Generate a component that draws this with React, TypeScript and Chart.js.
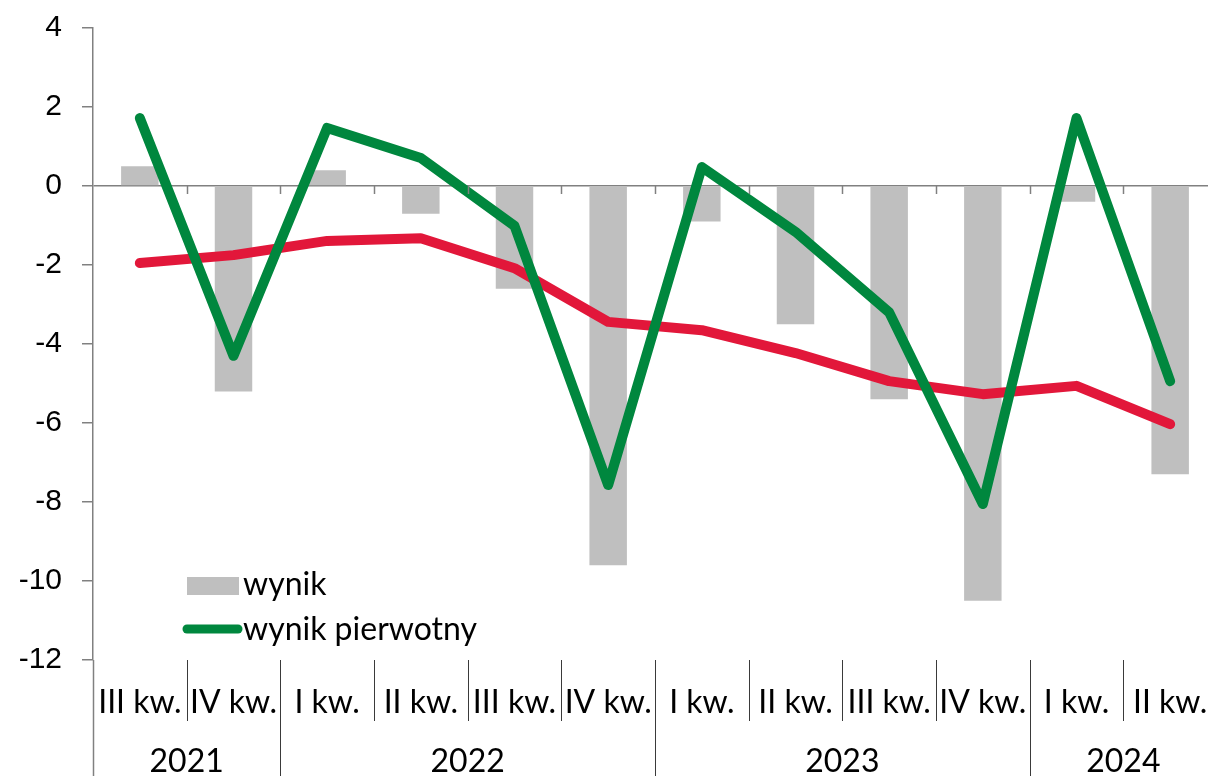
import React, { useEffect, useRef } from "react";
import { Chart, registerables } from "chart.js";

Chart.register(...registerables);

const categories = ["III kw.", "IV kw.", "I kw.", "II kw.", "III kw.", "IV kw.", "I kw.", "II kw.", "III kw.", "IV kw.", "I kw.", "II kw."];
const yearLabels = ["2021", "2022", "2023", "2024"];
const yearSpans = [2, 4, 4, 2];

const wynik = [0.5, -5.2, 0.4, -0.7, -2.6, -9.6, -0.9, -3.5, -5.4, -10.5, -0.4, -7.3];
const wynikPierwotny = [1.72, -4.3, 1.47, 0.71, -1.01, -7.57, 0.48, -1.16, -3.2, -8.05, 1.72, -4.94];
const trend = [-1.95, -1.75, -1.39, -1.32, -2.08, -3.44, -3.65, -4.23, -4.94, -5.27, -5.06, -6.03];

const legendItems = ["wynik", "wynik pierwotny"];

const FONT = "Lato";
const FS = 32;
const YFONT = "'Liberation Sans', Arial, sans-serif";
const YFS = 30;
const GRAY = "#BFBFBF";
const GREEN = "#00873E";
const RED = "#E2173A";
const AXIS = "#808080";

const decorPlugin = {
  id: "decor",
  afterDraw(chart: any) {
    const { ctx, chartArea, scales } = chart;
    const x = scales.x;
    const y = scales.y;
    const half = (x.getPixelForValue(1) - x.getPixelForValue(0)) / 2;
    const bound = (i: number) => x.getPixelForValue(i) - half;
    const y0 = y.getPixelForValue(0);
    ctx.save();

    // small ticks on zero line
    ctx.strokeStyle = AXIS;
    ctx.lineWidth = 1.5;
    for (let i = 1; i < categories.length; i++) {
      const bx = Math.round(bound(i)) + 0.5;
      ctx.beginPath();
      ctx.moveTo(bx, y0);
      ctx.lineTo(bx, y0 + 8);
      ctx.stroke();
    }

    // separators below axis
    const yearBounds: number[] = [0];
    yearSpans.forEach((s) => yearBounds.push(yearBounds[yearBounds.length - 1] + s));
    for (let i = 0; i <= categories.length; i++) {
      const bx = Math.round(bound(i)) + 0.5;
      const isYear = yearBounds.includes(i);
      ctx.strokeStyle = i === 0 ? AXIS : "#3a3a3a";
      ctx.lineWidth = i === 0 ? 1.5 : 1;
      ctx.beginPath();
      ctx.moveTo(bx, chartArea.bottom);
      ctx.lineTo(bx, isYear ? chart.height : chartArea.bottom + 61);
      ctx.stroke();
    }

    // category labels
    ctx.fillStyle = "#000";
    ctx.font = `${FS}px ${FONT}`;
    ctx.textAlign = "center";
    ctx.textBaseline = "alphabetic";
    categories.forEach((c, i) => {
      ctx.fillText(c, x.getPixelForValue(i), chartArea.bottom + 53);
    });
    // year labels
    yearLabels.forEach((yl, k) => {
      const cx = (bound(yearBounds[k]) + bound(yearBounds[k + 1])) / 2;
      ctx.fillText(yl, cx, chartArea.bottom + 112);
    });

    // legend
    ctx.textAlign = "left";
    ctx.fillStyle = GRAY;
    ctx.fillRect(187, 577, 52, 18);
    ctx.strokeStyle = GREEN;
    ctx.lineWidth = 9;
    ctx.lineCap = "round";
    ctx.beginPath();
    ctx.moveTo(187, 629);
    ctx.lineTo(238, 629);
    ctx.stroke();
    ctx.fillStyle = "#000";
    ctx.fillText(legendItems[0], 243, 595);
    ctx.fillText(legendItems[1], 243, 640);

    ctx.restore();
  },
};

export default function App() {
  const ref = useRef<HTMLCanvasElement>(null);

  useEffect(() => {
    let chart: Chart | null = null;
    let cancelled = false;
    const make = () => {
      if (cancelled || !ref.current) return;
      chart = new Chart(ref.current, {
        type: "bar",
        data: {
          labels: categories,
          datasets: [
            {
              type: "line",
              label: "wynik pierwotny",
              data: wynikPierwotny,
              borderColor: GREEN,
              borderWidth: 10,
              borderCapStyle: "round",
              borderJoinStyle: "round",
              pointRadius: 0,
              tension: 0,
              order: 1,
            } as any,
            {
              type: "line",
              label: "trend",
              data: trend,
              borderColor: RED,
              borderWidth: 10,
              borderCapStyle: "round",
              borderJoinStyle: "round",
              pointRadius: 0,
              tension: 0,
              order: 2,
            } as any,
            {
              type: "bar",
              label: "wynik",
              data: wynik,
              backgroundColor: GRAY,
              barPercentage: 0.4,
              categoryPercentage: 1,
              order: 3,
            } as any,
          ],
        },
        options: {
          responsive: false,
          animation: false,
          devicePixelRatio: 1,
          layout: { padding: { top: 28, bottom: 116, left: 0, right: 0 } },
          plugins: { legend: { display: false }, tooltip: { enabled: false } },
          scales: {
            x: { type: "category", offset: true, display: false },
            y: {
              min: -12,
              max: 4,
              ticks: {
                stepSize: 2,
                color: "#000",
                font: { family: YFONT, size: YFS },
                padding: 20,
              },
              grid: {
                color: (c: any) => (c.tick && c.tick.value === 0 ? AXIS : "rgba(0,0,0,0)"),
                tickColor: AXIS,
                tickLength: 11,
                lineWidth: 1.5,
              },
              border: { color: AXIS, width: 1.5 },
              afterFit: (s: any) => {
                s.width = 93;
                s.paddingTop = 0;
                s.paddingBottom = 0;
              },
            },
          },
        } as any,
        plugins: [decorPlugin],
      });
    };
    const fonts: any = (document as any).fonts;
    if (fonts && fonts.load) {
      Promise.all([fonts.load(`${FS}px ${FONT}`), fonts.load(`${YFS}px 'Liberation Sans'`)]).then(make, make);
    } else {
      make();
    }
    return () => {
      cancelled = true;
      if (chart) chart.destroy();
    };
  }, []);

  return (
    <div style={{ position: "absolute", left: 0, top: 0, width: 1208, height: 776, overflow: "hidden", background: "#fff" }}>
      <canvas ref={ref} width={1217} height={776} style={{ display: "block", width: 1217, height: 776 }} />
    </div>
  );
}
